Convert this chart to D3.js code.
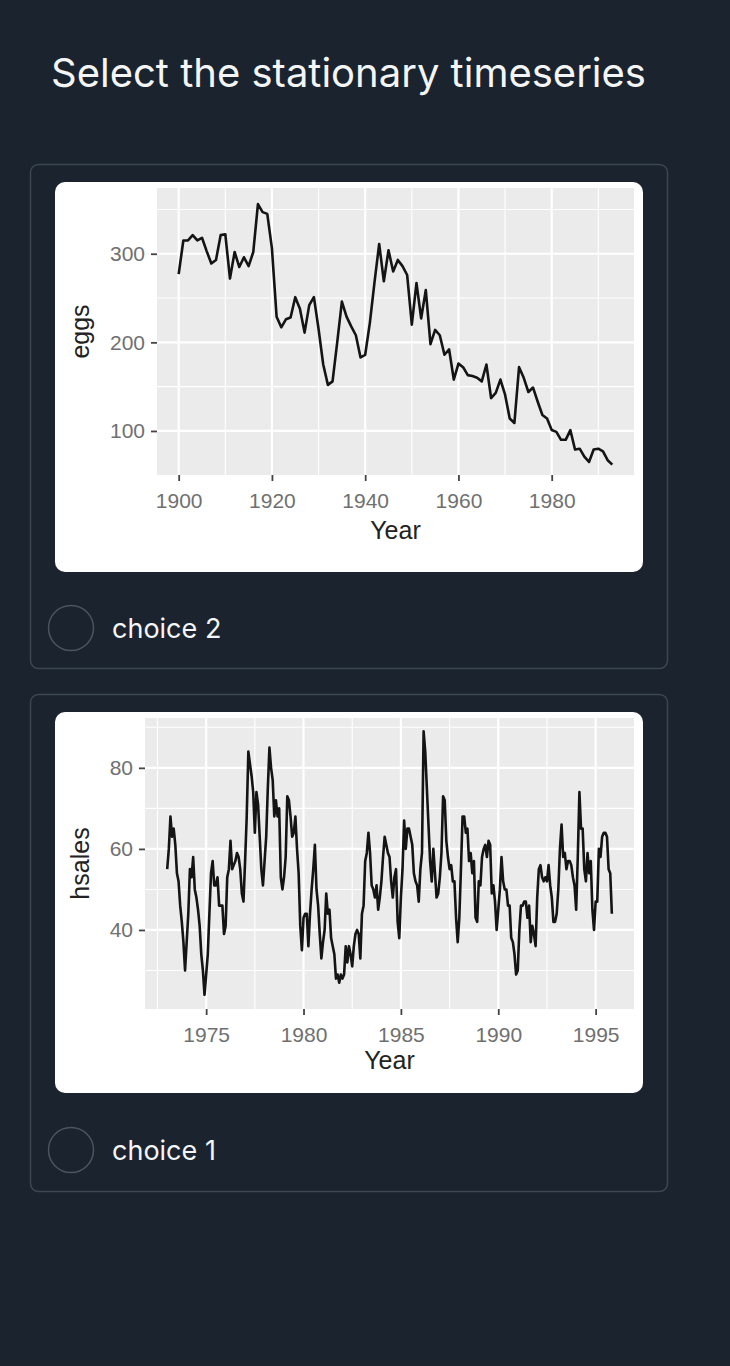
<!DOCTYPE html>
<html><head><meta charset="utf-8">
<script src="https://cdn.jsdelivr.net/npm/d3@7"></script>
<style>
html,body{margin:0;padding:0;background:#1a232e;}
svg{display:block}
</style></head><body>
<svg id="page" width="730" height="1366"></svg>
<script>
// ---------- DATA ----------
const pageTitle = "Select the stationary timeseries";
const choiceLabels = ["choice 2", "choice 1"];

// eggs (annual, 1900-1993)
const eggsYears = [1900,1901,1902,1903,1904,1905,1906,1907,1908,1909,1910,1911,1912,1913,1914,1915,1916,1917,1918,1919,
1920,1921,1922,1923,1924,1925,1926,1927,1928,1929,1930,1931,1932,1933,1934,1935,1936,1937,1938,1939,
1940,1941,1942,1943,1944,1945,1946,1947,1948,1949,1950,1951,1952,1953,1954,1955,1956,1957,1958,1959,
1960,1961,1962,1963,1964,1965,1966,1967,1968,1969,1970,1971,1972,1973,1974,1975,1976,1977,1978,1979,
1980,1981,1982,1983,1984,1985,1986,1987,1988,1989,1990,1991,1992,1993];
const eggsValues = [277,315,315,321,315,318,303,289,293,321,322,272,302,285,296,286,302,356,347,345,
306,229,217,226,228,251,238,211,242,251,215,175,152,156,200,246,229,218,208,183,
186,222,268,311,269,304,280,293,286,276,220,267,227,259,198,214,208,186,192,158,
176,172,163,162,160,156,175,137,143,158,141,114,109,172,160,144,149,133,118,114,
101,99,90,90,101,79,80,71,65,79,80,77,67,62];
const eggsXTicks = [1900,1920,1940,1960,1980];
const eggsXMinor = [1910,1930,1950,1970,1990];
const eggsYTicks = [100,200,300];
const eggsYMinor = [150,250,350];

// hsales (monthly, Jan 1973 - Nov 1995)
const hsalesStartYear = 1973;
const hsalesValues = [
55,60,68,63,65,61,54,52,46,42,37,30,
37,44,55,53,58,50,48,45,41,34,30,24,
29,34,44,54,57,51,51,53,46,46,46,39,
41,53,55,62,55,56,57,59,58,55,49,47,
57,68,84,81,78,74,64,74,71,63,55,51,
57,63,75,85,80,77,68,72,68,70,53,50,
53,58,73,72,68,63,64,68,60,54,41,35,
43,44,44,36,44,50,55,61,50,46,39,33,
37,40,49,44,45,38,36,34,28,29,27,29,
28,29,36,32,36,34,31,36,39,40,39,33,
44,46,57,59,64,59,51,50,48,51,45,48,
52,58,63,61,59,58,52,48,53,55,42,38,
48,55,67,60,65,65,63,61,54,52,51,47,
55,59,89,84,75,66,57,52,60,54,48,49,
53,59,73,72,62,58,55,56,52,52,43,37,
43,55,68,68,64,65,57,59,54,57,43,42,
52,51,58,60,61,58,62,61,49,51,47,40,
45,50,58,52,50,50,46,46,38,37,34,29,
30,40,46,46,47,47,43,46,37,41,39,36,
48,55,56,53,52,53,52,56,51,48,42,42,
44,50,60,66,58,59,55,57,57,56,53,51,
45,58,74,65,65,55,52,59,54,57,45,40,
47,47,60,58,63,64,64,63,55,54,44];
const hsalesXTicks = [1975,1980,1985,1990,1995];
const hsalesXMinor = [1972.5,1977.5,1982.5,1987.5,1992.5];
const hsalesYTicks = [40,60,80];
const hsalesYMinor = [30,50,70,90];

// ---------- DRAWING ----------
const svg = d3.select("#page");
const BG = "#1a232e";
svg.append("rect").attr("width",730).attr("height",1366).attr("fill",BG);

svg.append("text").attr("x",51).attr("y",87)
  .attr("font-family","Inter, 'Noto Sans', sans-serif").attr("font-size",40)
  .attr("fill","#f3f5f7").text(pageTitle);

function drawCard(y0, h, radioY, label){
  svg.append("rect").attr("x",30.5).attr("y",y0+0.5).attr("width",637).attr("height",h)
    .attr("rx",8).attr("fill","none").attr("stroke","#3c4752").attr("stroke-width",1.5);
  svg.append("circle").attr("cx",71).attr("cy",radioY).attr("r",22.5)
    .attr("fill","none").attr("stroke","#4a5560").attr("stroke-width",1.5);
  svg.append("text").attr("x",112).attr("y",radioY+10)
    .attr("font-family","Inter, 'Noto Sans', sans-serif").attr("font-size",27)
    .attr("fill","#f3f5f7").text(label);
}
drawCard(164, 504, 628, choiceLabels[0]);
drawCard(694, 497, 1150, choiceLabels[1]);

function drawChart(cfg){
  const g = svg.append("g");
  g.append("rect").attr("x",cfg.card.x).attr("y",cfg.card.y).attr("width",cfg.card.w).attr("height",cfg.card.h)
    .attr("rx",10).attr("fill","#ffffff");
  const x = d3.scaleLinear().domain(cfg.xDomain).range([cfg.p.l, cfg.p.r]);
  const y = d3.scaleLinear().domain(cfg.yDomain).range([cfg.p.b, cfg.p.t]);
  g.append("rect").attr("x",cfg.p.l).attr("y",cfg.p.t).attr("width",cfg.p.r-cfg.p.l).attr("height",cfg.p.b-cfg.p.t)
    .attr("fill","#ebebeb");
  const grid = g.append("g").attr("stroke","#ffffff");
  grid.selectAll(".hmin").data(cfg.yMinor).join("line")
    .attr("x1",cfg.p.l).attr("x2",cfg.p.r).attr("y1",d=>y(d)).attr("y2",d=>y(d)).attr("stroke-width",1.1);
  grid.selectAll(".vmin").data(cfg.xMinor.filter(d=>x(d)>cfg.p.l && x(d)<cfg.p.r)).join("line")
    .attr("y1",cfg.p.t).attr("y2",cfg.p.b).attr("x1",d=>x(d)).attr("x2",d=>x(d)).attr("stroke-width",1.1);
  grid.selectAll(".hmaj").data(cfg.yTicks).join("line")
    .attr("x1",cfg.p.l).attr("x2",cfg.p.r).attr("y1",d=>y(d)).attr("y2",d=>y(d)).attr("stroke-width",2.2);
  grid.selectAll(".vmaj").data(cfg.xTicks).join("line")
    .attr("y1",cfg.p.t).attr("y2",cfg.p.b).attr("x1",d=>x(d)).attr("x2",d=>x(d)).attr("stroke-width",2.2);

  g.append("path").datum(cfg.data)
    .attr("fill","none").attr("stroke","#141414").attr("stroke-width",2.6).attr("stroke-linejoin","round")
    .attr("d", d3.line().x(d=>x(d[0])).y(d=>y(d[1])));

  const xa = g.append("g").attr("transform",`translate(0,${cfg.p.b})`)
    .call(d3.axisBottom(x).tickValues(cfg.xTicks).tickSize(6).tickPadding(8).tickFormat(d3.format("d")));
  const ya = g.append("g").attr("transform",`translate(${cfg.p.l},0)`)
    .call(d3.axisLeft(y).tickValues(cfg.yTicks).tickSize(6).tickPadding(6).tickFormat(d3.format("d")));
  [xa,ya].forEach(a=>{
    a.select(".domain").remove();
    a.selectAll(".tick line").attr("stroke","#444").attr("stroke-width",1.8);
    a.selectAll(".tick text").attr("fill","#707070")
      .attr("font-family","'Liberation Sans', Arial, sans-serif").attr("font-size",21);
  });
  xa.selectAll(".tick text").attr("dy","0.9em");
  g.append("text").attr("x",(cfg.p.l+cfg.p.r)/2).attr("y",cfg.xTitleY).attr("text-anchor","middle")
    .attr("font-family","'Liberation Sans', Arial, sans-serif").attr("font-size",25).attr("fill","#222")
    .text("Year");
  g.append("text").attr("transform",`translate(89,${(cfg.p.t+cfg.p.b)/2}) rotate(-90)`).attr("text-anchor","middle")
    .attr("font-family","'Liberation Sans', Arial, sans-serif").attr("font-size",25).attr("fill","#222")
    .text(cfg.yTitle);
}

drawChart({
  card:{x:55,y:182,w:588,h:390},
  p:{l:157,r:634,t:188,b:475},
  xDomain:[1895.35,1997.65], yDomain:[50.3,374.2],
  xTicks:eggsXTicks, xMinor:eggsXMinor, yTicks:eggsYTicks, yMinor:eggsYMinor,
  data: eggsYears.map((yr,i)=>[yr, eggsValues[i]]),
  xTitleY:539, yTitle:"eggs"
});

drawChart({
  card:{x:55,y:712,w:588,h:381},
  p:{l:145,r:634,t:718,b:1009},
  xDomain:[1971.86,1996.97], yDomain:[20.5,92.3],
  xTicks:hsalesXTicks, xMinor:hsalesXMinor, yTicks:hsalesYTicks, yMinor:hsalesYMinor,
  data: hsalesValues.map((v,i)=>[hsalesStartYear + i/12, v]),
  xTitleY:1069, yTitle:"hsales"
});
</script>
</body></html>
